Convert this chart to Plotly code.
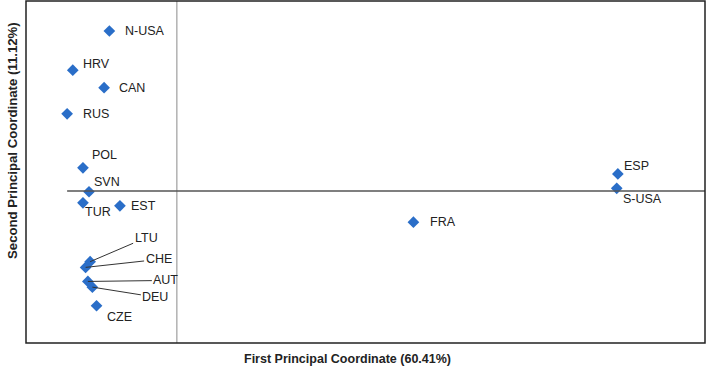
import plotly.graph_objects as go

countries = ["N-USA", "HRV", "CAN", "RUS", "POL", "SVN", "TUR", "EST",
             "LTU", "CHE", "AUT", "DEU", "CZE", "FRA", "ESP", "S-USA"]
pc1 = [-0.179, -0.276, -0.193, -0.291, -0.249, -0.233, -0.249, -0.151,
       -0.230, -0.242, -0.236, -0.224, -0.213, 0.627, 1.169, 1.166]
pc2 = [0.421, 0.318, 0.272, 0.203, 0.061, -0.002, -0.031, -0.039,
       -0.186, -0.201, -0.238, -0.253, -0.302, -0.082, 0.045, 0.007]

# label placement (pixel offsets): (xshift, yshift) for plain labels
plain_offsets = {
    "N-USA": (14, 0), "HRV": (8, 6), "CAN": (13, 0), "RUS": (14, 0),
    "POL": (7, 13), "SVN": (3, 10), "TUR": (0, -9), "EST": (9, 0),
    "CZE": (8, -11), "FRA": (15, 0), "ESP": (4, 8), "S-USA": (4, -11),
}
# leader-line labels: (ax, ay) pixel offsets of the text centre
leader_offsets = {
    "LTU": (56, -24), "CHE": (73, -8), "AUT": (78, -1), "DEU": (63, 10),
}

font_family = "Liberation Sans"
blue = "#2A6EC8"

fig = go.Figure()
fig.add_trace(go.Scatter(
    x=pc1, y=pc2, mode="markers",
    marker=dict(symbol="diamond", size=9, color=blue, line=dict(width=0)),
    hoverinfo="text", text=countries, showlegend=False,
))

annotations = []
for c, x, y in zip(countries, pc1, pc2):
    if c in plain_offsets:
        dx, dy = plain_offsets[c]
        annotations.append(dict(
            x=x, y=y, xref="x", yref="y", text=c, showarrow=False,
            xanchor="left", yanchor="middle", xshift=dx, yshift=dy,
            font=dict(family=font_family, size=12.5, color="#222"),
        ))
    else:
        ax, ay = leader_offsets[c]
        annotations.append(dict(
            x=x, y=y, xref="x", yref="y", text=c, showarrow=True,
            arrowhead=0, arrowwidth=1, arrowcolor="#333", ax=ax, ay=ay,
            standoff=0, font=dict(family=font_family, size=12.5, color="#222"),
        ))

annotations.append(dict(
    text="<b>First Principal Coordinate (60.41%)</b>", xref="paper", yref="paper",
    x=0.473, y=-0.047, showarrow=False, xanchor="center", yanchor="middle",
    font=dict(family=font_family, size=12.5, color="#222"),
))
annotations.append(dict(
    text="<b>Second Principal Coordinate (11.12%)</b>", xref="paper", yref="paper",
    x=-0.019, y=0.591, showarrow=False, xanchor="center", yanchor="middle",
    textangle=-90, font=dict(family=font_family, size=13.2, color="#222"),
))

shapes = [
    dict(type="line", xref="x", yref="paper", x0=0, x1=0, y0=0, y1=1,
         line=dict(color="#8a8a8a", width=1)),
    dict(type="line", xref="x", yref="y", x0=-0.291, x1=1.4, y0=0, y1=0,
         line=dict(color="#555555", width=1.3)),
    dict(type="rect", xref="paper", yref="paper", x0=0, x1=1, y0=0, y1=1,
         line=dict(color="#222222", width=1.5)),
]

fig.update_layout(
    width=709, height=370,
    margin=dict(l=26, r=4, t=1, b=27),
    paper_bgcolor="white", plot_bgcolor="white",
    xaxis=dict(range=[-0.4, 1.4], showgrid=False, zeroline=False,
               showticklabels=False, ticks=""),
    yaxis=dict(range=[-0.4, 0.5], showgrid=False, zeroline=False,
               showticklabels=False, ticks=""),
    annotations=annotations, shapes=shapes,
    font=dict(family=font_family),
)

fig.write_html(
    "out.html",
    config={"displayModeBar": False},
    post_script="document.body.style.margin='0';document.body.style.overflow='hidden';",
)
